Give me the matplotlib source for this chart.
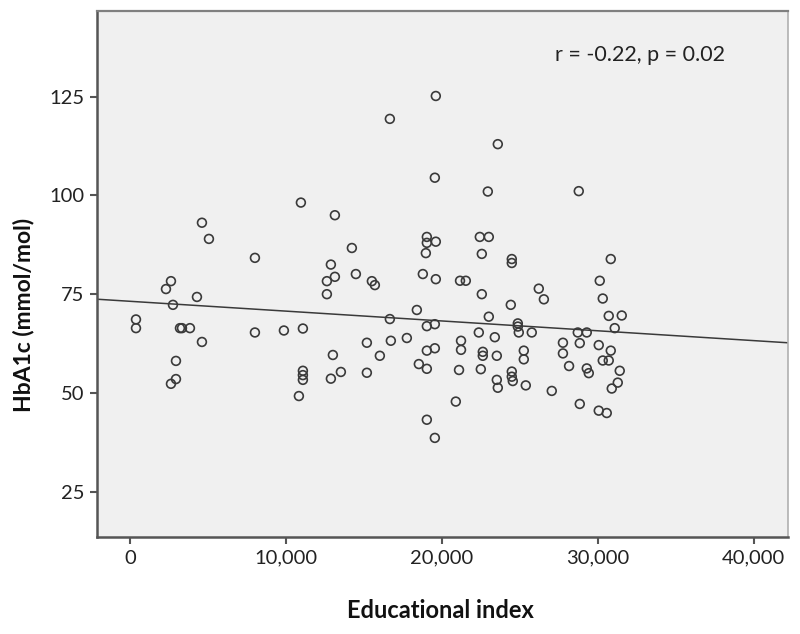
import numpy as np
import matplotlib
matplotlib.use("Agg")
import matplotlib.pyplot as plt
from matplotlib.ticker import FuncFormatter

# Educational index values (x) and HbA1c (mmol/mol) values (y)
edu_index = [
    385, 385, 2308, 2628, 2756, 4295, 2949, 2949, 2628, 3205, 3333, 3846,
    4615, 4615, 5064, 8013, 8013, 9871, 11089, 10961, 11089, 11089, 11089, 10833,
    13141, 12884, 13141, 12628, 12628, 14230, 14487, 15512, 15705, 13012, 12884, 13525,
    15192, 15192, 16025, 16666, 16666, 16730, 17756, 18397, 18781, 19614, 19038, 19038,
    19614, 18974, 19614, 19551, 19038, 19551, 19038, 19551, 18525, 19038, 19038, 19551,
    20896, 21102, 21230, 21230, 21166, 21538, 22563, 22435, 23012, 22563, 22948, 23589,
    23012, 22371, 23397, 22627, 22627, 23525, 22499, 23525, 23589, 24422, 24486, 24486,
    24872, 24872, 24935, 25768, 24486, 24486, 24550, 25256, 25256, 25384, 26217, 26544,
    27050, 28781, 27766, 27766, 28159, 28718, 29295, 28846, 29295, 29423, 28846, 30063,
    30576, 30127, 30320, 30704, 31538, 31088, 30063, 30833, 30320, 30704, 31409, 31282,
    30897, 30833,
]
hba1c = [
    68.6, 66.4, 76.3, 78.3, 72.3, 74.3, 58.1, 53.5, 52.3, 66.4, 66.4, 66.4,
    62.9, 93.1, 89.0, 84.2, 65.3, 65.8, 66.3, 98.2, 55.6, 54.5, 53.3, 49.2,
    95.0, 82.5, 79.4, 78.3, 75.0, 86.7, 80.1, 78.3, 77.3, 59.6, 53.6, 55.3,
    62.7, 55.1, 59.4, 119.4, 68.7, 63.2, 63.9, 71.0, 80.1, 78.8, 89.5, 88.0,
    88.3, 85.4, 125.2, 104.5, 66.9, 67.4, 60.7, 61.3, 57.3, 56.1, 43.2, 38.6,
    47.8, 55.8, 63.2, 60.9, 78.4, 78.4, 75.0, 89.5, 89.5, 85.2, 101.0, 113.0,
    69.3, 65.3, 64.1, 60.4, 59.4, 59.4, 56.0, 53.3, 51.3, 72.3, 83.9, 82.9,
    67.6, 66.8, 65.3, 65.3, 55.4, 54.1, 53.0, 60.7, 58.5, 51.9, 76.4, 73.7,
    50.5, 101.1, 62.7, 60.0, 56.8, 65.3, 65.3, 62.6, 56.2, 55.0, 47.2, 45.5,
    44.9, 78.4, 73.9, 69.5, 69.6, 66.4, 62.1, 60.7, 58.2, 58.2, 55.6, 52.6,
    51.1, 83.9,
]

# Fitted regression line
fit_intercept = 73.2
fit_slope = -0.000249

x_ticks = [0, 10000, 20000, 30000, 40000]
y_ticks = [25, 50, 75, 100, 125]
annotation = "r = -0.22, p = 0.02"
x_label = "Educational index"
y_label = "HbA1c (mmol/mol)"

plt.rcParams['font.family'] = ['Lato', 'DejaVu Sans']

fig = plt.figure(figsize=(8.0, 6.34), dpi=100)
ax = fig.add_axes([97/800, 1-537/634, 691/800, 526.3/634])
ax.set_facecolor('#f0f0f0')

xlim = (-2115, 42200)
ylim = (13.5, 146.8)
ax.set_xlim(*xlim)
ax.set_ylim(*ylim)

ax.scatter(edu_index, hba1c, s=40, facecolors='none', edgecolors='#3a3a3a',
           linewidths=1.2, zorder=3)

xl = np.array(xlim)
ax.plot(xl, fit_intercept + fit_slope * xl, color='#3a3a3a', lw=1.1, zorder=2)

ax.set_xticks(x_ticks)
ax.set_yticks(y_ticks)
ax.xaxis.set_major_formatter(FuncFormatter(lambda v, p: f"{int(v):,}"))
ax.tick_params(axis='both', direction='out', length=5, width=1.5, color='#555555',
               labelsize=14.5, labelcolor='#222222', pad=4)

for side in ['left', 'bottom']:
    ax.spines[side].set_color('#555555')
    ax.spines[side].set_linewidth(1.8)
ax.spines['top'].set_color('#808080')
ax.spines['top'].set_linewidth(1.6)
ax.spines['right'].set_color('#b0b0b0')
ax.spines['right'].set_linewidth(1.2)

ax.text(0.786, 0.916, annotation, transform=ax.transAxes, ha='center', va='center',
        fontsize=15.5, color='#222222')

fig.text(440/800, 1-610/634, x_label, ha='center', va='center', fontsize=17,
         fontweight='bold', color='#111111')
fig.text(24/800, 1-315/634, y_label, ha='center', va='center', rotation=90,
         fontsize=16.5, fontweight='bold', color='#111111')

fig.savefig('out.png', dpi=100, facecolor='white')
